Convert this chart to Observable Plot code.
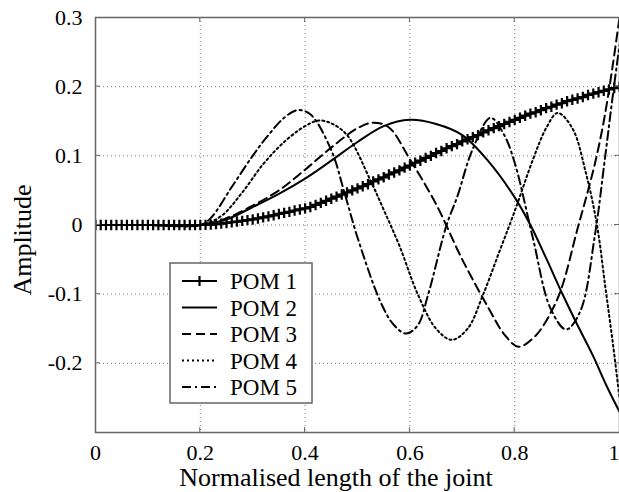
<!DOCTYPE html>
<html><head><meta charset="utf-8">
<script src="https://cdn.jsdelivr.net/npm/d3@7"></script>
<script src="https://cdn.jsdelivr.net/npm/@observablehq/plot@0.6"></script>
<style>html,body{margin:0;padding:0;background:#fff;overflow:hidden}</style>
</head><body><div id="chart"></div>
<script>
const xTicks = [0, 0.2, 0.4, 0.6, 0.8, 1];
const xTickLabels = ["0", "0.2", "0.4", "0.6", "0.8", "1"];
const yTicks = [-0.2, -0.1, 0, 0.1, 0.2, 0.3];
const yTickLabels = ["-0.2", "-0.1", "0", "0.1", "0.2", "0.3"];
const seriesNames = ["POM 1", "POM 2", "POM 3", "POM 4", "POM 5"];
const xTitle = "Normalised length of the joint";
const yTitle = "Amplitude";

const pom1X = [0,0.01,0.02,0.03,0.04,0.05,0.06,0.07,0.08,0.09,0.1,0.11,0.12,0.13,0.14,0.15,0.16,0.17,0.18,0.19,0.2,
 0.21,0.22,0.23,0.24,0.25,0.26,0.27,0.28,0.29,0.3,0.31,0.32,0.33,0.34,0.35,0.36,0.37,0.38,0.39,0.4,
 0.41,0.42,0.43,0.44,0.45,0.46,0.47,0.48,0.49,0.5,0.51,0.52,0.53,0.54,0.55,0.56,0.57,0.58,0.59,0.6,
 0.61,0.62,0.63,0.64,0.65,0.66,0.67,0.68,0.69,0.7,0.71,0.72,0.73,0.74,0.75,0.76,0.77,0.78,0.79,0.8,
 0.81,0.82,0.83,0.84,0.85,0.86,0.87,0.88,0.89,0.9,0.91,0.92,0.93,0.94,0.95,0.96,0.97,0.98,0.99,1];
const pom1Y = [0,0,0,0,0,0,0,0,0,0,0,0,0,0,0,0,0,0,0,0,0,
 0.0002,0.0006,0.0012,0.002,0.003,0.004,0.005,0.006,0.007,0.008,
 0.0095,0.011,0.0125,0.014,0.016,0.0175,0.019,0.021,0.0225,0.024,
 0.026,0.029,0.032,0.035,0.038,0.041,0.044,0.047,0.050,0.053,
 0.056,0.059,0.063,0.066,0.069,0.073,0.076,0.079,0.083,0.086,
 0.090,0.093,0.097,0.100,0.104,0.107,0.111,0.114,0.117,0.121,
 0.124,0.127,0.130,0.134,0.137,0.140,0.143,0.146,0.149,0.152,
 0.155,0.158,0.161,0.163,0.166,0.169,0.171,0.174,0.176,0.179,
 0.181,0.183,0.185,0.188,0.190,0.192,0.194,0.196,0.198,0.200];

const pom2X = [0,0.1,0.2,0.25,0.3,0.35,0.4,0.45,0.5,0.55,0.6,0.65,0.7,0.75,0.8,0.83,0.86,0.89,0.92,0.95,0.975,1];
const pom2Y = [0,0,0,0.008,0.026,0.045,0.067,0.093,0.12,0.143,0.152,0.146,0.13,0.092,0.04,0,-0.048,-0.098,-0.145,-0.19,-0.232,-0.27];

const pom3X = [0,0.1,0.2,0.25,0.3,0.35,0.4,0.45,0.5,0.53,0.56,0.6,0.65,0.7,0.75,0.78,0.807,0.84,0.87,0.89,0.92,0.94,0.955,0.97,0.985,1];
const pom3Y = [0,0,0,0.01,0.028,0.05,0.08,0.112,0.14,0.148,0.141,0.095,0.03,-0.05,-0.12,-0.158,-0.176,-0.16,-0.125,-0.09,-0.005,0.05,0.095,0.15,0.22,0.3];

const pom4X = [0,0.1,0.2,0.24,0.28,0.32,0.36,0.4,0.426,0.45,0.48,0.525,0.55,0.58,0.615,0.65,0.68,0.71,0.74,0.77,0.8,0.835,0.86,0.882,0.91,0.935,0.957,0.973,0.988,1];
const pom4Y = [0,0,0,0.013,0.047,0.088,0.12,0.143,0.151,0.147,0.13,0.064,0.022,-0.03,-0.1,-0.15,-0.166,-0.15,-0.1,-0.04,0.02,0.095,0.14,0.162,0.14,0.078,0,-0.09,-0.175,-0.25];

const pom5X = [0,0.1,0.2,0.22,0.26,0.3,0.33,0.36,0.385,0.41,0.45,0.475,0.5,0.545,0.57,0.593,0.615,0.635,0.67,0.69,0.72,0.754,0.78,0.8,0.835,0.868,0.898,0.925,0.953,0.972,0.986,1];
const pom5Y = [0,0,0,0.01,0.055,0.1,0.13,0.155,0.166,0.16,0.108,0.047,-0.018,-0.113,-0.145,-0.157,-0.145,-0.1,0,0.04,0.11,0.155,0.13,0.09,-0.02,-0.12,-0.151,-0.125,-0.015,0.095,0.18,0.26];

const rows = (xs, ys) => xs.map((x, i) => ({x, y: ys[i]}));
const styles = [
  {dash: null},
  {dash: null},
  {dash: "9,5"},
  {dash: "2,3"},
  {dash: "9,4,2,4"}
];
const plusSymbol = {draw(ctx, size) { const r = Math.sqrt(size / Math.PI); ctx.moveTo(-r, 0); ctx.lineTo(r, 0); ctx.moveTo(0, -r); ctx.lineTo(0, r); }};

const FONT = '"Liberation Serif", "Times New Roman", "DejaVu Serif", serif';
const xGrid = xTicks.filter(t => t > 0 && t < 1);
const yGrid = yTicks.filter(t => t > -0.3 && t < 0.3);

const plot = Plot.plot({
  width: 619, height: 492,
  marginLeft: 95, marginRight: 0, marginTop: 17, marginBottom: 60,
  style: {fontFamily: FONT, fontSize: "22px", color: "black", background: "white"},
  x: {domain: [0, 1], ticks: xTicks, tickFormat: d => xTickLabels[xTicks.indexOf(d)], tickSize: 0, tickPadding: 12, label: null},
  y: {domain: [-0.3, 0.3], ticks: yTicks, tickFormat: d => yTickLabels[yTicks.indexOf(d)], tickSize: 0, tickPadding: 13, label: null},
  marks: [
    Plot.ruleX(xGrid, {stroke: "#777", strokeWidth: 1, strokeDasharray: "1,3"}),
    Plot.ruleY(yGrid, {stroke: "#777", strokeWidth: 1, strokeDasharray: "1,3"}),
    Plot.line(rows(pom2X, pom2Y), {x: "x", y: "y", curve: "catmull-rom", stroke: "black", strokeWidth: 2, clip: true}),
    Plot.line(rows(pom3X, pom3Y), {x: "x", y: "y", curve: "catmull-rom", stroke: "black", strokeWidth: 2, strokeDasharray: styles[2].dash, clip: true}),
    Plot.line(rows(pom4X, pom4Y), {x: "x", y: "y", curve: "catmull-rom", stroke: "black", strokeWidth: 2, strokeDasharray: styles[3].dash, clip: true}),
    Plot.line(rows(pom5X, pom5Y), {x: "x", y: "y", curve: "catmull-rom", stroke: "black", strokeWidth: 2, strokeDasharray: styles[4].dash, clip: true}),
    Plot.line(rows(pom1X, pom1Y), {x: "x", y: "y", stroke: "black", strokeWidth: 2.2, clip: true}),
    Plot.dot(rows(pom1X, pom1Y), {x: "x", y: "y", symbol: plusSymbol, r: 5.2, fill: "none", stroke: "black", strokeWidth: 2.2, clip: true}),
    Plot.frame({stroke: "#666", strokeWidth: 1.5})
  ]
});

const svg = d3.select(plot);
// keep the last x tick label inside the picture
svg.selectAll("text").filter(function() { return this.textContent === xTickLabels[xTickLabels.length - 1]; })
  .attr("text-anchor", "end");

const sx = plot.scale("x"), sy = plot.scale("y");
const x0 = sx.apply(0), x1 = sx.apply(1), y0 = sy.apply(-0.3), y1 = sy.apply(0.3);
const tg = svg.append("g").attr("stroke", "#666").attr("stroke-width", 1);
xGrid.forEach(t => {
  const px = sx.apply(t);
  tg.append("line").attr("x1", px).attr("x2", px).attr("y1", y0).attr("y2", y0 - 5);
  tg.append("line").attr("x1", px).attr("x2", px).attr("y1", y1).attr("y2", y1 + 5);
});
yGrid.forEach(t => {
  const py = sy.apply(t);
  tg.append("line").attr("y1", py).attr("y2", py).attr("x1", x0).attr("x2", x0 + 5);
  tg.append("line").attr("y1", py).attr("y2", py).attr("x1", x1).attr("x2", x1 - 5);
});

svg.append("text").attr("x", 336).attr("y", 486).attr("text-anchor", "middle")
  .style("font-family", FONT).style("font-size", "26px").attr("fill", "black").text(xTitle);
svg.append("text").attr("transform", "translate(31,240) rotate(-90)").attr("text-anchor", "middle")
  .style("font-family", FONT).style("font-size", "26px").attr("fill", "black").text(yTitle);

// legend
const lg = svg.append("g").attr("text-anchor", "start");
lg.append("rect").attr("x", 170).attr("y", 263).attr("width", 142).attr("height", 140)
  .attr("fill", "white").attr("stroke", "#666").attr("stroke-width", 1.5);
seriesNames.forEach((name, i) => {
  const cy = 281 + i * 26.5;
  const ln = lg.append("line").attr("x1", 182).attr("x2", 217).attr("y1", cy).attr("y2", cy)
    .attr("stroke", "black").attr("stroke-width", 2);
  if (styles[i].dash) ln.attr("stroke-dasharray", styles[i].dash);
  if (i === 0) {
    lg.append("path").attr("d", `M${199.5-5},${cy}H${199.5+5}M199.5,${cy-5}V${cy+5}`)
      .attr("stroke", "black").attr("stroke-width", 2.2).attr("fill", "none");
  }
  lg.append("text").attr("x", 230).attr("y", cy).attr("dy", "0.35em").attr("text-anchor", "start")
    .style("font-family", FONT).style("font-size", "23px").attr("fill", "black").text(name);
});

document.getElementById("chart").appendChild(plot);
</script>
</body></html>
